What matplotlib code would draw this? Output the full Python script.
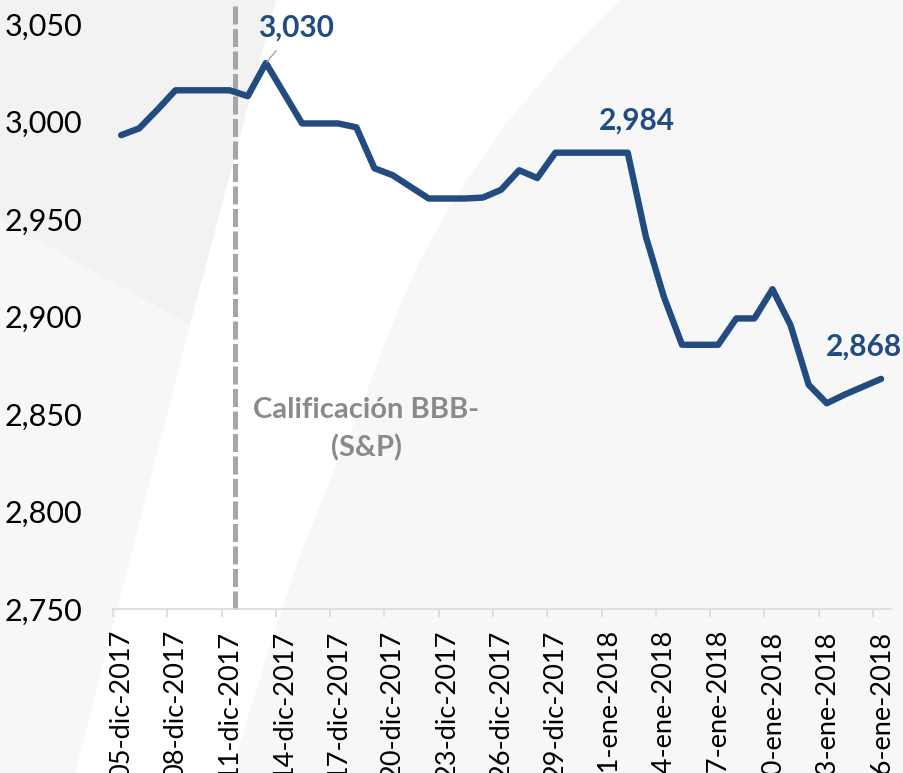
import matplotlib.pyplot as plt
import numpy as np
from matplotlib.patches import Polygon

# data: daily index level, 05-dic-2017 .. 16-ene-2018
values = [2993, 2996.5, 3006, 3016, 3016, 3016, 3016, 3013, 3030, 3014.5,
          2999, 2999, 2999, 2997, 2976, 2972.5, 2966.5, 2960.5, 2960.5, 2960.5,
          2961, 2965, 2975, 2971, 2984, 2984, 2984, 2984, 2984, 2941,
          2910, 2885.5, 2885.5, 2885.5, 2899, 2899, 2914, 2895.5, 2865, 2855.5,
          2860, 2864, 2868]
tick_labels = ['05-dic-2017', '08-dic-2017', '11-dic-2017', '14-dic-2017',
               '17-dic-2017', '20-dic-2017', '23-dic-2017', '26-dic-2017',
               '29-dic-2017', '01-ene-2018', '04-ene-2018', '07-ene-2018',
               '10-ene-2018', '13-ene-2018', '16-ene-2018']
y_ticks = [2750, 2800, 2850, 2900, 2950, 3000, 3050]
rating_day = 6.75          # S&P downgrade, between 11 and 12 dic
labelled = [8, 24, 42]     # points with value labels

blue = '#224B7F'
grey = '#A6A6A6'
plt.rcParams['font.family'] = ['Lato', 'DejaVu Sans']

W, H = 904, 773
fig = plt.figure(figsize=(W / 100, H / 100), dpi=100)
fig.patch.set_facecolor('white')

# background decoration (pixel coordinates)
bg = fig.add_axes([0, 0, 1, 1], zorder=0)
bg.set_xlim(0, W)
bg.set_ylim(H, 0)
bg.axis('off')
bg.add_patch(Polygon([(0, 0), (276, 0), (190, 325), (0, 220)], color='#F2F2F2', lw=0))
bg.add_patch(Polygon([(0, 220), (190, 325), (75, 773), (0, 773)], color='#F7F7F7', lw=0))
curve = [(620, 0), (560, 60), (505, 125), (460, 190), (420, 260), (390, 330),
         (360, 410), (330, 480), (300, 555), (275, 630), (250, 710), (232, 773),
         (W, H), (W, 0)]
bg.add_patch(Polygon(curve, color='#F7F7F7', lw=0))

# main axes
ax = fig.add_axes([113 / W, (H - 609) / H, 778 / W, 585 / H], zorder=1)
ax.set_facecolor('none')

off = 0.45
x = np.arange(len(values)) + off
ax.plot(x, values, color=blue, lw=4.6, solid_capstyle='round', solid_joinstyle='round', zorder=3)

ax.set_xlim(0, len(values))
ax.set_ylim(2750, 3050)

for s in ['top', 'right', 'left']:
    ax.spines[s].set_visible(False)
ax.spines['bottom'].set_color('#D9D9D9')
ax.spines['bottom'].set_linewidth(1.2)

major = np.arange(0, len(values), 3)
ax.set_xticks(major)
ax.set_xticklabels([])
ax.tick_params(axis='x', which='major', length=6, width=1.2, color='#D9D9D9')
ax.set_xticks(major + off, minor=True)
ax.set_xticklabels(tick_labels, minor=True, rotation=90, fontsize=19.5, color='black')
ax.tick_params(axis='x', which='minor', length=0, pad=15)

ax.set_yticks(y_ticks)
ax.set_yticklabels([f'{v:,}' for v in y_ticks], fontsize=22, color='black')
ax.tick_params(axis='y', length=0, pad=22)

# S&P line + text
ax.axvline(rating_day, ymin=0, ymax=1.035, color=grey, lw=3.6, dashes=(3.6, 0.9),
           clip_on=False, zorder=2)
ax.text(14.0, 2842, 'Calificación BBB-\n(S&P)', ha='center', va='center',
        fontsize=21, fontweight='bold', color='#8A8A8A', linespacing=1.5)

# value labels
i = labelled[0]
ax.annotate(f'{values[i]:,.0f}', xy=(i + off, values[i]), xytext=(10.1, 3048.2),
            textcoords='data', ha='center', va='center', fontsize=21.5,
            fontweight='bold', color=blue, annotation_clip=False,
            arrowprops=dict(arrowstyle='-', color=grey, lw=1, shrinkA=6, shrinkB=1))
i = labelled[1]
ax.text(28.95, 3000.3, f'{values[i]:,.0f}', ha='center', va='center',
        fontsize=21.5, fontweight='bold', color=blue)
i = labelled[2]
ax.text(41.5, 2884.4, f'{values[i]:,.0f}', ha='center', va='center',
        fontsize=21.5, fontweight='bold', color=blue, clip_on=False)

fig.savefig('out.png', dpi=100)
